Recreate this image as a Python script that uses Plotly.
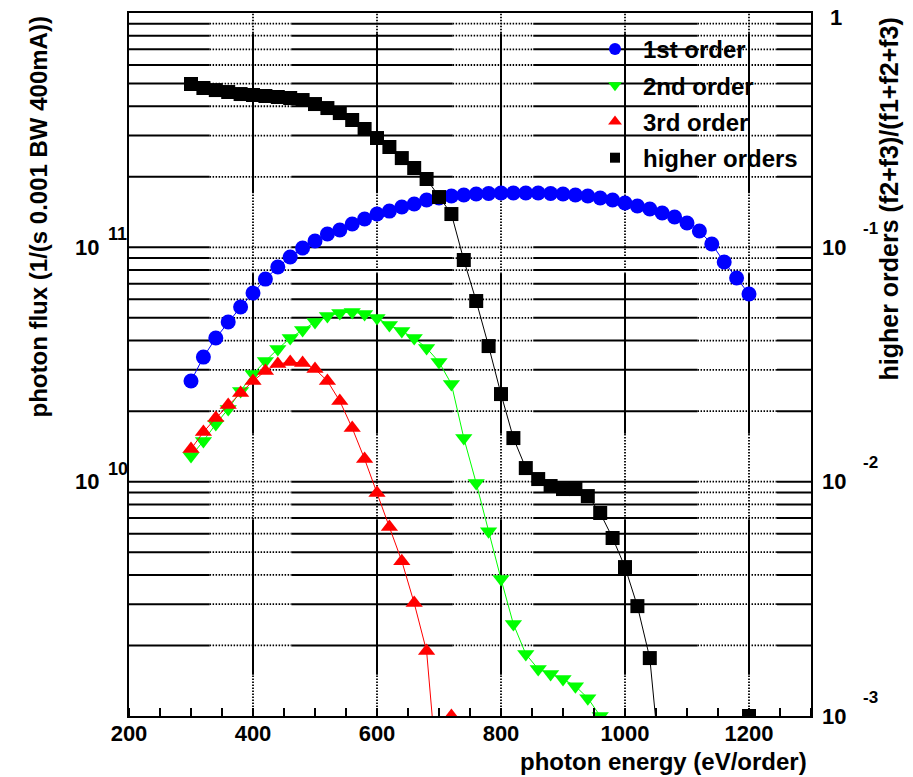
import math
import plotly.graph_objects as go

# ---------------------------------------------------------------- data
energy_1st = list(range(300, 1201, 20))
flux_1st = [2.69e10, 3.40e10, 4.10e10, 4.80e10, 5.56e10, 6.38e10, 7.32e10, 8.24e10,
            9.09e10, 9.93e10, 1.064e11, 1.14e11, 1.186e11, 1.258e11, 1.321e11, 1.387e11,
            1.428e11, 1.486e11, 1.530e11, 1.592e11, 1.623e11, 1.656e11, 1.672e11, 1.689e11,
            1.697e11, 1.705e11, 1.705e11, 1.705e11, 1.705e11, 1.697e11, 1.689e11, 1.672e11,
            1.656e11, 1.623e11, 1.592e11, 1.545e11, 1.501e11, 1.457e11, 1.401e11, 1.347e11,
            1.270e11, 1.174e11, 1.033e11, 8.66e10, 7.40e10, 6.32e10]

energy_2nd = list(range(300, 961, 20))
flux_2nd = [1.286e10, 1.491e10, 1.761e10, 2.041e10, 2.436e10, 2.879e10, 3.271e10, 3.681e10,
            4.10e10, 4.436e10, 4.80e10, 5.09e10, 5.244e10, 5.296e10, 5.19e10, 4.99e10,
            4.66e10, 4.39e10, 4.10e10, 3.717e10, 3.24e10, 2.61e10, 1.536e10, 9.86e9,
            6.15e9, 3.84e9, 2.467e9, 1.838e9, 1.586e9, 1.51e9, 1.437e9, 1.341e9,
            1.192e9, 1.0e9]

energy_3rd = list(range(300, 721, 20))
flux_3rd = [1.378e10, 1.628e10, 1.868e10, 2.123e10, 2.388e10, 2.689e10, 2.966e10, 3.177e10,
            3.24e10, 3.208e10, 3.024e10, 2.689e10, 2.208e10, 1.694e10, 1.249e10, 8.94e9,
            6.40e9, 4.58e9, 3.033e9, 1.892e9, 4.6e8, 1.0e9]

energy_higher = list(range(300, 1061, 20)) + [1200]
ratio_higher = [0.4977, 0.4785, 0.469, 0.460, 0.451, 0.4467, 0.4423, 0.4380, 0.4337, 0.4252,
                0.4088, 0.3930, 0.3742, 0.3494, 0.3198, 0.2927, 0.2680, 0.2404, 0.2181, 0.1957,
                0.1639, 0.1387, 0.0883, 0.0590, 0.0379, 0.02365, 0.01535, 0.01143, 0.01026,
                0.00958, 0.00930, 0.00930, 0.00868, 0.00735, 0.00575, 0.00432, 0.002944,
                0.001767, 0.0005, 0.001]

x_tick_values = [200, 400, 600, 800, 1000, 1200]
flux_label_exponents = [10, 11]
ratio_label_exponents = [-1, -2, -3]

# ---------------------------------------------------------------- styles
FONT = "Liberation Sans"
W, H = 913, 777
ML, MR, MT, MB = 129, 102, 13, 61
PW, PH = W - ML - MR, H - MT - MB


def px_x(p):
    """pixel column -> paper x"""
    return (p - ML) / PW


def px_y(p):
    """pixel row -> paper y"""
    return 1 - (p - MT) / PH


series = [
    dict(name="1st order", x=energy_1st, y=flux_1st, color="#0000ff", symbol="circle",
         size=15, axis="y", lsize=12),
    dict(name="2nd order", x=energy_2nd, y=flux_2nd, color="#00ff00", symbol="triangle-down",
         size=15, axis="y", lsize=12),
    dict(name="3rd order", x=energy_3rd, y=flux_3rd, color="#ff0000", symbol="triangle-up",
         size=15, axis="y", lsize=12),
    dict(name="higher orders", x=energy_higher, y=ratio_higher, color="#000000", symbol="square",
         size=14, axis="y2", lsize=10),
]

fig = go.Figure()
for s in series:
    fig.add_trace(go.Scatter(
        x=s["x"], y=s["y"], yaxis=s["axis"], mode="lines+markers",
        line=dict(color=s["color"], width=1),
        marker=dict(color=s["color"], symbol=s["symbol"], size=s["size"], line=dict(width=0)),
        showlegend=False, hoverinfo="x+y",
    ))
for s in series:
    fig.add_trace(go.Scatter(
        x=[None], y=[None], yaxis=s["axis"], mode="markers", name=s["name"],
        legendgroup=s["name"],
        marker=dict(color=s["color"], symbol=s["symbol"], size=s["lsize"], line=dict(width=0)),
    ))

# ---------------------------------------------------------------- grid (solid with dotted gaps)
shapes = []
grid_kw = dict(color="black", width=2)
dot_kw = dict(color="black", width=1.8, dash="1.5px,1.5px")

h_levels = [k * 10.0 ** d for d in (-3, -2, -1) for k in range(1, 10)][1:]
h_dotted = [(330, 462), (722, 852), (1117, 1245)]
h_edges = [200] + [v for seg in h_dotted for v in seg] + [1300]
for lv in h_levels:
    for i in range(len(h_edges) - 1):
        dotted = i % 2 == 1
        shapes.append(dict(type="line", xref="x", yref="y2", x0=h_edges[i], x1=h_edges[i + 1],
                           y0=lv, y1=lv, layer="below", line=dot_kw if dotted else grid_kw))

v_dotted = [(0.001, 0.0015), (0.0069, 0.016), (0.077, 0.17), (0.82, 1.0)]
for xv in x_tick_values[1:]:
    for a, b in v_dotted:
        shapes.append(dict(type="line", xref="x", yref="y2", x0=xv, x1=xv, y0=a, y1=b,
                           layer="below", line=dot_kw))
    for i in range(len(v_dotted) - 1):
        shapes.append(dict(type="line", xref="x", yref="y2", x0=xv, x1=xv,
                           y0=v_dotted[i][1], y1=v_dotted[i + 1][0], layer="below",
                           line=grid_kw))

# ---------------------------------------------------------------- labels
ann = []
tick_font = dict(family=FONT, size=22, color="black", weight="bold")
sup_font = dict(family=FONT, size=18, color="black", weight="bold")
for e in flux_label_exponents:
    ann.append(dict(text="10", xref="paper", yref="y", x=px_x(101), y=e, xanchor="right",
                    yanchor="middle", showarrow=False, font=tick_font))
    ann.append(dict(text=str(e), xref="paper", yref="y", x=px_x(106), y=e, xanchor="left",
                    yanchor="middle", yshift=13, showarrow=False, font=sup_font))
ann.append(dict(text="1", xref="paper", yref="y2", x=px_x(828), y=0, xanchor="left",
                yanchor="middle", yshift=-4, showarrow=False, font=tick_font))
for e in ratio_label_exponents:
    ann.append(dict(text="10", xref="paper", yref="y2", x=px_x(820), y=e, xanchor="left",
                    yanchor="middle", showarrow=False, font=tick_font))
    ann.append(dict(text=str(e), xref="paper", yref="y2", x=px_x(861), y=e, xanchor="left",
                    yanchor="middle", yshift=19, showarrow=False,
                    font=dict(family=FONT, size=17, color="black", weight="bold")))

title_font = dict(family=FONT, size=24, color="black", weight="bold")
ann.append(dict(text="photon energy (eV/order)", xref="paper", yref="paper",
                x=px_x(809), y=px_y(761), xanchor="right", yanchor="middle",
                showarrow=False, font=title_font))
ann.append(dict(text="photon flux (1/(s 0.001 BW 400mA))", xref="paper", yref="paper",
                x=px_x(38), y=px_y(15), xanchor="center", yanchor="top", textangle=-90,
                showarrow=False, font=title_font))
ann.append(dict(text="higher orders (f2+f3)/(f1+f2+f3)", xref="paper", yref="paper",
                x=px_x(888), y=px_y(15), xanchor="center", yanchor="top", textangle=-90,
                showarrow=False, font=dict(family=FONT, size=25, color="black", weight="bold")))

axis_line = dict(showline=True, linecolor="black", linewidth=2, zeroline=False, showgrid=False)

fig.update_layout(
    width=W, height=H,
    margin=dict(l=ML, r=MR, t=MT, b=MB, pad=0),
    paper_bgcolor="white", plot_bgcolor="white",
    font=dict(family=FONT, color="black"),
    xaxis=dict(range=[200, 1300], tickvals=x_tick_values,
               ticktext=[str(v) for v in x_tick_values], ticks="",
               tickfont=tick_font, ticklabelstandoff=-3, mirror=True,
               minor=dict(ticks="inside", dtick=50, tick0=200, ticklen=8, tickwidth=1.5,
                          tickcolor="black", showgrid=False),
               **axis_line),
    yaxis=dict(type="log", range=[9, 12], showticklabels=False, ticks="", **axis_line),
    yaxis2=dict(type="log", range=[-3, 0], overlaying="y", side="right",
                showticklabels=False, ticks="", **axis_line),
    legend=dict(x=px_x(587), y=px_y(27), xanchor="left", yanchor="top",
                bgcolor="rgba(0,0,0,0)", borderwidth=0, itemwidth=46, tracegroupgap=2,
                font=dict(family=FONT, size=24, color="black", weight="bold")),
    shapes=shapes,
    annotations=ann,
)

fig.write_html("out.html")
